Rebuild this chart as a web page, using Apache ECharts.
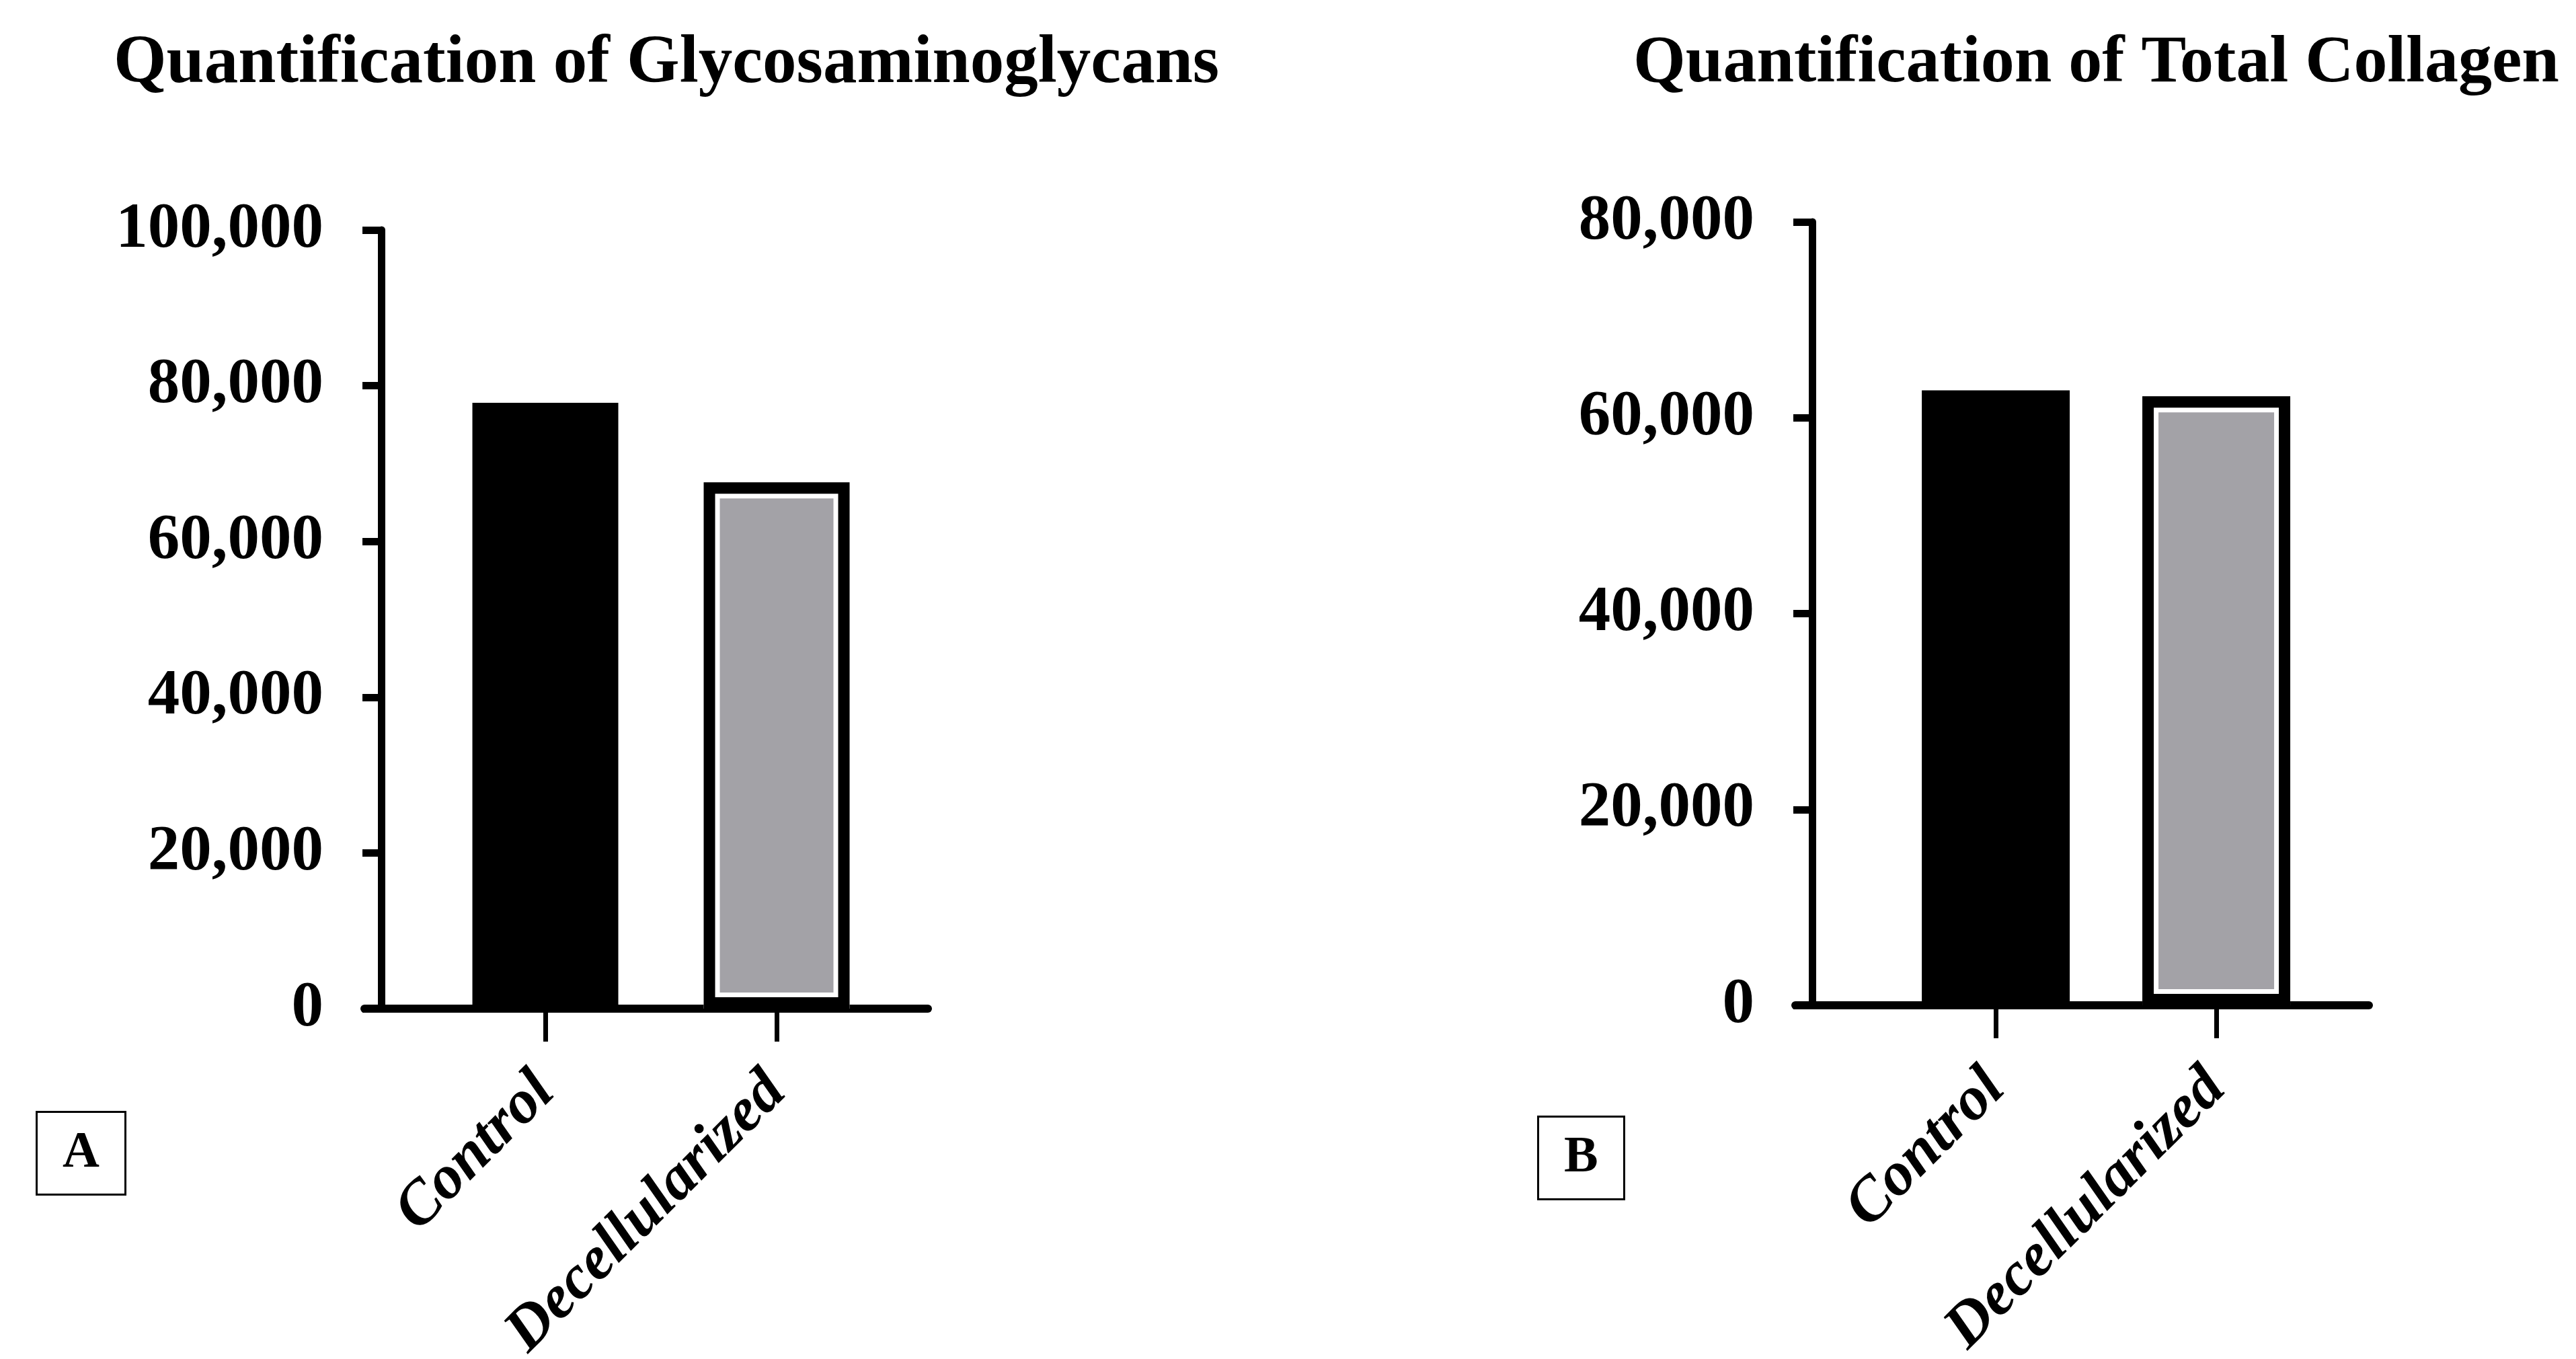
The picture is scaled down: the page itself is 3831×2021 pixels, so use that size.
<!DOCTYPE html>
<html><head><meta charset="utf-8">
<script src="https://cdn.jsdelivr.net/npm/echarts@6/dist/echarts.min.js"></script>
<style>html,body{margin:0;padding:0;background:#fff}#c{width:3831px;height:2021px}</style>
</head><body><div id="c"></div>
<script>
const categories = ['Control', 'Decellularized'];
const gagValues = [77800, 67600];
const collagenValues = [62800, 62200];
const gagTicks = [0, 20000, 40000, 60000, 80000, 100000];
const collagenTicks = [0, 20000, 40000, 60000, 80000];
const panelTitles = ['Quantification of Glycosaminoglycans', 'Quantification of Total Collagen'];
const panelLetters = ['A', 'B'];
const barColors = ['#000000', '#a3a2a7'];

const SERIF = '"Liberation Serif", "DejaVu Serif", serif';
const positions = categories.map((c, i) => i + 1);

function xAxisFor(gi, min, max) {
  return {
    type: 'value', gridIndex: gi, min: min, max: max,
    axisLine: { show: true, onZero: false, lineStyle: { color: '#000', width: 12, cap: 'round' } },
    axisTick: { show: true, customValues: positions, length: 49, lineStyle: { color: '#000', width: 7 } },
    axisLabel: {
      customValues: positions, rotate: 45, margin: 110,
      formatter: v => categories[Math.round(v) - 1] || '',
      fontFamily: SERIF, fontWeight: 'bold', fontStyle: 'italic', fontSize: 92, color: '#000'
    },
    splitLine: { show: false }
  };
}
function yAxisFor(gi, ticks) {
  return {
    type: 'value', gridIndex: gi, min: ticks[0], max: ticks[ticks.length - 1],
    interval: ticks[1] - ticks[0], offset: -25,
    axisLine: { show: true, onZero: false, lineStyle: { color: '#000', width: 11, cap: 'round' } },
    axisTick: { show: true, length: 28, lineStyle: { color: '#000', width: 11 } },
    axisLabel: {
      margin: 86, fontFamily: SERIF, fontWeight: 'bold', fontSize: 95, color: '#000',
      formatter: v => v.toLocaleString('en-US')
    },
    splitLine: { show: false }
  };
}
// Main bars: solid black Control; grey Decellularized with a thin white inner edge
function barSeries(gi, values, width) {
  return {
    type: 'bar', xAxisIndex: gi, yAxisIndex: gi, barWidth: width, barGap: '-100%',
    data: values.map((v, i) => ({
      value: [positions[i], v],
      itemStyle: i === 0
        ? { color: barColors[0], borderColor: '#000', borderWidth: 0 }
        : { color: barColors[1], borderColor: '#ffffff', borderWidth: 24 }
    }))
  };
}
// Black outline drawn over the Decellularized bar (same value, same layout)
function outlineSeries(gi, values, width) {
  return {
    type: 'bar', xAxisIndex: gi, yAxisIndex: gi, barWidth: width, barGap: '-100%',
    silent: true, tooltip: { show: false },
    data: [{
      value: [positions[1], values[1]],
      itemStyle: { color: 'rgba(0,0,0,0)', borderColor: '#000', borderWidth: 17 }
    }]
  };
}
function letterBox(letter, left, top) {
  return {
    text: letter, left: left, top: top, padding: [24, 39],
    borderColor: '#000', borderWidth: 3,
    textStyle: { fontFamily: SERIF, fontWeight: 'bold', fontSize: 76, lineHeight: 74, color: '#000' }
  };
}

const chart = echarts.init(document.getElementById('c'));
chart.setOption({
  backgroundColor: '#fff',
  animation: false,
  title: [
    { text: panelTitles[0], left: 164, top: 40, textStyle: { fontFamily: SERIF, fontWeight: 'bold', fontSize: 101, color: '#000' } },
    { text: panelTitles[1], left: 2424, top: 40, textStyle: { fontFamily: SERIF, fontWeight: 'bold', fontSize: 100, color: '#000' } },
    letterBox(panelLetters[0], 54, 1654),
    letterBox(panelLetters[1], 2287, 1661)
  ],
  grid: [
    { left: 542, top: 342, right: 2451, bottom: 521, outerBoundsMode: 'none' },
    { left: 2670, top: 330, right: 308, bottom: 526, outerBoundsMode: 'none' }
  ],
  xAxis: [xAxisFor(0, 0.218, 2.654), xAxisFor(1, 0.091, 2.692)],
  yAxis: [yAxisFor(0, gagTicks), yAxisFor(1, collagenTicks)],
  series: [
    barSeries(0, gagValues, 217), outlineSeries(0, gagValues, 217),
    barSeries(1, collagenValues, 220), outlineSeries(1, collagenValues, 220)
  ]
});
</script></body></html>
